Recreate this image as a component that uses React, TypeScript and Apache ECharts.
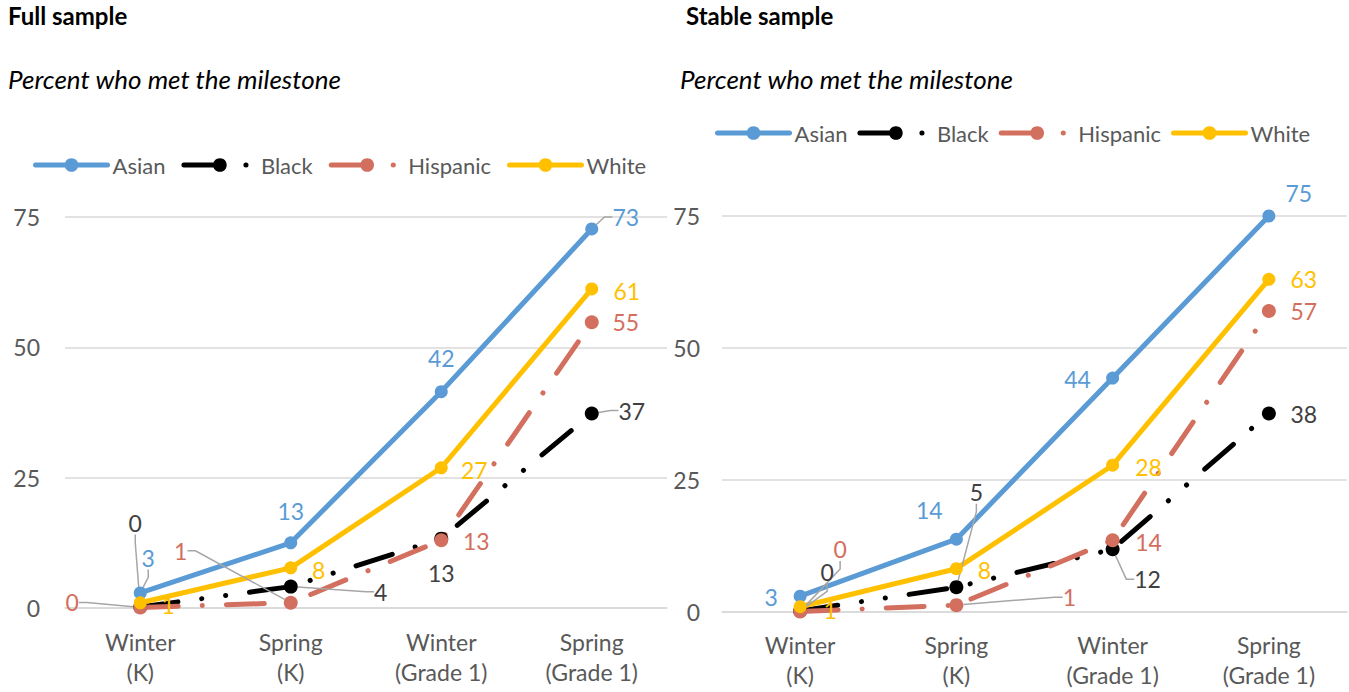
import React, { useEffect, useRef } from 'react';
import * as echarts from 'echarts';

const categories = ['Winter\n(K)', 'Spring\n(K)', 'Winter\n(Grade 1)', 'Spring\n(Grade 1)'];
const seriesNames = ['Asian', 'Black', 'Hispanic', 'White'];
const yMin = 0;
const yMax = 75;
const yInterval = 25;

// Full sample (percent who met the milestone)
const fullAsian = [2.9, 12.5, 41.5, 72.7];
const fullBlack = [0.2, 4.1, 13.3, 37.3];
const fullHispanic = [0.1, 1.0, 13.0, 54.8];
const fullWhite = [1.0, 7.7, 26.9, 61.2];

// Stable sample
const stableAsian = [3.0, 13.8, 44.3, 75.0];
const stableBlack = [0.2, 4.7, 11.9, 37.6];
const stableHispanic = [0.1, 1.3, 13.6, 57.0];
const stableWhite = [1.0, 8.2, 27.8, 63.0];

// ---- styles ----
const FONT = 'Lato, "Open Sans", sans-serif';
const COLORS: Record<string, string> = { Asian: '#5B9BD5', Black: '#000000', Hispanic: '#D36F5E', White: '#FFC000' };
const LABEL_COLORS: Record<string, string> = { Asian: '#5B9BD5', Black: '#404040', Hispanic: '#D36F5E', White: '#FFC000' };
const DASH: Record<string, any> = {
  Asian: 'solid',
  Black: [38, 24, 0.1, 24, 0.1, 24],
  Hispanic: [38, 24, 0.1, 24],
  White: 'solid',
};
const SYMBOL_SIZE: Record<string, number> = { Asian: 13, Black: 14, Hispanic: 14, White: 13 };

// label centre offsets from the point (px) and whether a leader line is drawn
const fullOffsets: Record<string, number[][]> = {
  Asian: [[8, -35], [0, -32], [0, -34], [34, -12]],
  Black: [[-5, -84], [90, 5], [0, 34], [40, -3]],
  Hispanic: [[-68, -5], [-110, -52], [35, 1], [34, 0]],
  White: [[28, 2], [28, 2], [33, 2], [35, 2]],
};
const fullLeaders: Record<string, number[]> = { Asian: [1, 0, 0, 1], Black: [1, 1, 0, 1], Hispanic: [1, 1, 0, 0], White: [0, 0, 0, 0] };

const stableOffsets: Record<string, number[][]> = {
  Asian: [[-29, 1], [-27, -29], [-35, 1], [30, -23]],
  Black: [[27, -39], [20, -95], [35, 30], [35, 1]],
  Hispanic: [[40, -62], [113, -8], [36, 2], [35, 0]],
  White: [[30, 3], [28, 1], [36, 2], [35, 0]],
};
const stableLeaders: Record<string, number[]> = { Asian: [0, 0, 0, 0], Black: [1, 1, 1, 0], Hispanic: [1, 1, 0, 0], White: [0, 0, 0, 0] };

function buildSeries(
  values: Record<string, number[]>,
  offsets: Record<string, number[][]>,
  leaders: Record<string, number[]>,
  axisIndex: number
) {
  return seriesNames.map((name) => ({
    name,
    type: 'line',
    xAxisIndex: axisIndex,
    yAxisIndex: axisIndex,
    symbol: 'circle',
    symbolSize: SYMBOL_SIZE[name],
    smooth: false,
    clip: false,
    lineStyle: { color: COLORS[name], width: 5, type: DASH[name], cap: 'round' },
    itemStyle: { color: COLORS[name] },
    label: {
      show: true,
      position: 'inside',
      fontSize: 23,
      fontFamily: FONT,
      color: LABEL_COLORS[name],
      formatter: (p: any) => String(Math.round(p.value)),
    },
    labelLine: { show: true, length2: 8, lineStyle: { color: '#A6A6A6', width: 1.5 } },
    labelLayout: (p: any) => {
      const o = offsets[name][p.dataIndex];
      return { dx: o[0], dy: o[1] };
    },
    data: values[name].map((v, i) => ({
      value: v,
      labelLine: { show: !!leaders[name][i] },
    })),
  }));
}

export default function App() {
  const ref = useRef<HTMLDivElement>(null);
  useEffect(() => {
    document.body.style.margin = '0';
    if (!ref.current) return;
    const chart = echarts.init(ref.current, undefined, { renderer: 'svg' });
    const axisLabelStyle = { fontSize: 23, color: '#595959', fontFamily: FONT };
    const legendCommon = {
      itemWidth: 72,
      itemHeight: 17,
      data: seriesNames,
      lineStyle: { width: 5, cap: 'round' },
      textStyle: { fontSize: 22, color: '#595959', fontFamily: FONT },
    };
    const option: any = {
      animation: false,
      textStyle: { fontFamily: FONT },
      title: [
        { text: 'Full sample', left: 3, top: -2, textStyle: { fontSize: 24, fontWeight: 'bold', color: '#000', fontFamily: FONT } },
        { text: 'Percent who met the milestone', left: 3, top: 61, textStyle: { fontSize: 26, fontStyle: 'italic', fontWeight: 'normal', color: '#000', fontFamily: FONT } },
        { text: 'Stable sample', left: 681, top: -2, textStyle: { fontSize: 24, fontWeight: 'bold', color: '#000', fontFamily: FONT } },
        { text: 'Percent who met the milestone', left: 675, top: 61, textStyle: { fontSize: 26, fontStyle: 'italic', fontWeight: 'normal', color: '#000', fontFamily: FONT } },
      ],
      legend: [
        { ...legendCommon, left: 28, top: 149, itemGap: 16 },
        { ...legendCommon, left: 710, top: 117, itemGap: 10 },
      ],
      grid: [
        { left: 65, width: 602, top: 217, height: 391 },
        { left: 722, width: 625, top: 216, height: 396 },
      ],
      xAxis: [0, 1].map((i) => ({
        type: 'category',
        gridIndex: i,
        data: categories,
        boundaryGap: true,
        axisLine: { show: true, lineStyle: { color: '#D9D9D9', width: 1.5 } },
        axisTick: { show: false },
        axisLabel: { ...axisLabelStyle, lineHeight: 30, margin: i === 0 ? 19 : 18, interval: 0 },
      })),
      yAxis: [0, 1].map((i) => ({
        type: 'value',
        gridIndex: i,
        min: yMin,
        max: yMax,
        interval: yInterval,
        axisLine: { show: false },
        axisTick: { show: false },
        axisLabel: { ...axisLabelStyle, margin: i === 0 ? 25 : 22 },
        splitLine: { show: true, lineStyle: { color: '#D9D9D9', width: 1.5 } },
      })),
      series: [
        ...buildSeries({ Asian: fullAsian, Black: fullBlack, Hispanic: fullHispanic, White: fullWhite }, fullOffsets, fullLeaders, 0),
        ...buildSeries({ Asian: stableAsian, Black: stableBlack, Hispanic: stableHispanic, White: stableWhite }, stableOffsets, stableLeaders, 1),
      ],
    };
    chart.setOption(option);
    return () => chart.dispose();
  }, []);
  return <div ref={ref} style={{ width: 1349, height: 692 }} />;
}
